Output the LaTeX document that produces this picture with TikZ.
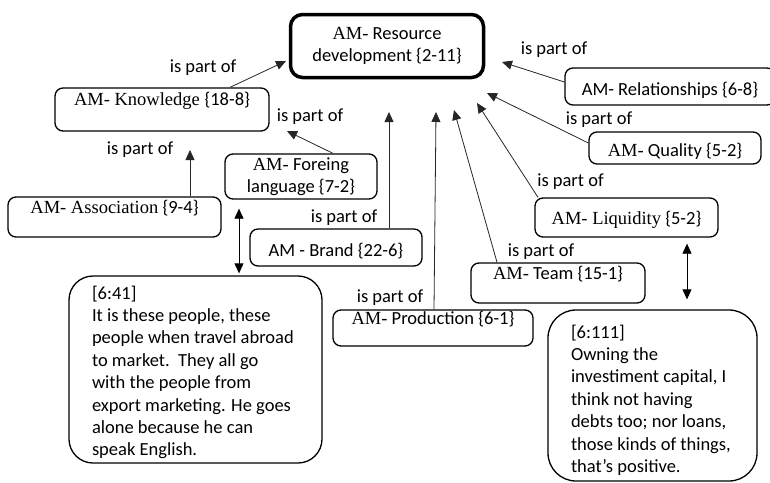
\documentclass[tikz,border=0pt]{standalone}
\usepackage{fontspec}
\setmainfont{Carlito}
\newfontfamily\tmsf{Liberation Serif}
\usetikzlibrary{arrows.meta}
\newcommand\fsz{\fontsize{18.5}{22.4}\selectfont}
\begin{document}
\begin{tikzpicture}[x=1pt,y=-1pt,
  every node/.style={font=\fsz},
  sbox/.style={draw=black, line width=1.3pt, rounded corners=8pt, inner sep=0pt, anchor=base},
  mbox/.style={draw=black, line width=1.3pt, rounded corners=8pt, inner sep=0pt, align=center},
  rbox/.style={draw=black, line width=3.5pt, rounded corners=12pt, inner sep=0pt, align=center},
  qbox/.style={draw=black, line width=1.3pt, inner sep=0pt},
  lbl/.style={inner sep=0pt},
  arr/.style={draw=black!85, line width=0.8pt, -{Triangle[length=10pt,width=9pt]}},
  darr/.style={draw=black, line width=0.8pt, {Triangle[length=10pt,width=9pt]}-{Triangle[length=10pt,width=9pt]}},
]
\useasboundingbox (0,0) rectangle (770,482);

% boxes
\node[rbox, minimum width=193pt, minimum height=63pt] (rt) at (387,46) {{\tmsf AM-} Resource\\development \{2-11\}};
\node[sbox, minimum width=214pt, text height=17pt, text depth=26pt] (kn) at (162,105) {{\tmsf AM- Knowledge }\{18-8\}};
\node[mbox, minimum width=152pt, minimum height=45pt] (fl) at (301,176.5) {{\tmsf AM-} Foreing\\language \{7-2\}};
\node[sbox, minimum width=213pt, text height=16pt, text depth=24pt] (as) at (114.5,213) {{\tmsf AM- Association} \{9-4\}};
\node[sbox, minimum width=172pt, text height=27pt, text depth=10pt] (br) at (336,256) {AM - Brand \{22-6\}};
\node[sbox, minimum width=200pt, text height=14pt, text depth=22pt] (pr) at (433,324) {{\tmsf AM-} Production \{6-1\}};
\node[sbox, minimum width=174pt, text height=16pt, text depth=24pt] (tm) at (558,279) {{\tmsf AM-} Team \{15-1\}};
\node[sbox, minimum width=183pt, text height=26pt, text depth=13pt] (lq) at (626.5,224) {{\tmsf AM- Liquidity} \{5-2\}};
\node[sbox, minimum width=172pt, text height=24pt, text depth=8pt] (ql) at (675,156) {{\tmsf AM-} Quality \{5-2\}};
\node[sbox, minimum width=210pt, text height=27pt, text depth=10pt] (rl) at (670,95) {AM- Relationships \{6-8\}};

\node[qbox, rounded corners=24pt] (q1) at (195.5,369.5) {\begin{minipage}[c][187pt][t]{253pt}\raggedright\leftskip=23pt\rule{0pt}{23pt}[6:41]\\It is these people, these\\people when travel abroad\\to market.\ \ They all go\\with the people from\\export marketing. He goes\\alone because he can\\speak English.\end{minipage}};
\node[qbox, rounded corners=28pt] (q2) at (652.5,395.5) {\begin{minipage}[c][171pt][t]{209pt}\raggedright\leftskip=23pt\rule{0pt}{28pt}[6:111]\\Owning the\\investiment capital, I\\think not having\\debts too; nor loans,\\those kinds of things,\\that’s positive.\end{minipage}};

% labels
\node[lbl] (l1) at (203,68) {is part of};
\node[lbl] (l2) at (310,117) {is part of};
\node[lbl] (l3) at (140,150) {is part of};
\node[lbl] (l4) at (344,218) {is part of};
\node[lbl] (l5) at (390,298) {is part of};
\node[lbl] (l6) at (541,252) {is part of};
\node[lbl] (l7) at (570.5,182) {is part of};
\node[lbl] (l8) at (599,120) {is part of};
\node[lbl] (l9) at (554,50) {is part of};

% arrow tips
\coordinate (t1) at (286,61);
\coordinate (t2) at (287,131);
\coordinate (t3) at (190,150);
\coordinate (t4) at (389,112);
\coordinate (t5) at (436,112);
\coordinate (t6) at (454,110);
\coordinate (t7) at (477,103);
\coordinate (t8) at (487,93);
\coordinate (t9) at (502,62);

\draw[arr] ([xshift=68pt]kn.north) -- (t1);
\draw[arr] ([xshift=32pt]fl.north) -- (t2);
\draw[arr] ([xshift=75.5pt]as.north) -- (t3);
\draw[arr] ([xshift=53pt]br.north) -- (t4);
\draw[arr] ([xshift=1pt]pr.north) -- (t5);
\draw[arr] ([xshift=-61pt]tm.north) -- (t6);
\draw[arr] ([xshift=-88.5pt]lq.north) -- (t7);
\draw[arr] ([yshift=5pt]ql.west) -- (t8);
\draw[arr] ([yshift=4.5pt]rl.west) -- (t9);

\draw[darr] ([xshift=-62pt,yshift=-9pt]fl.south) -- ([xshift=43.5pt,yshift=2pt]q1.north);
\draw[darr] ([xshift=60.5pt,yshift=-6pt]lq.south) -- ([xshift=34.5pt,yshift=10pt]q2.north);
\end{tikzpicture}
\end{document}
